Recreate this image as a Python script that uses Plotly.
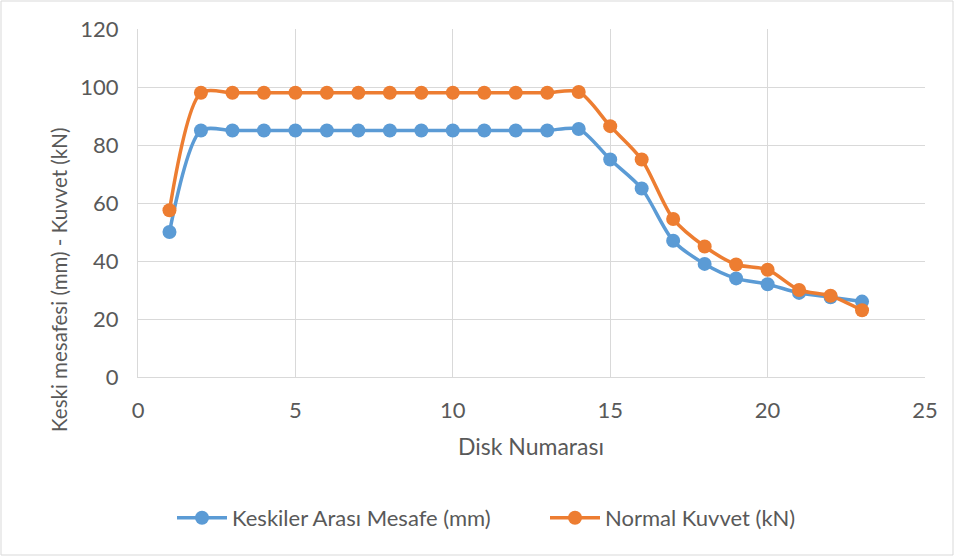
import plotly.graph_objects as go

disk = list(range(1, 24))
keskiler = [50, 85, 85, 85, 85, 85, 85, 85, 85, 85, 85, 85, 85, 85.5, 75, 65, 47, 39, 34, 32, 29, 27.5, 26]
normal = [57.5, 98, 98, 98, 98, 98, 98, 98, 98, 98, 98, 98, 98, 98.3, 86.5, 75, 54.5, 45, 38.8, 37, 30, 28, 23]
series_names = ["Keskiler Arası Mesafe (mm)", "Normal Kuvvet (kN)"]
colors = ["#5B9BD5", "#ED7D31"]
x_ticks = [0, 5, 10, 15, 20, 25]
y_ticks = [0, 20, 40, 60, 80, 100, 120]

FONT = "Lato"
TXT = "#595959"

W, H = 955, 557
L, R, T, B = 138, 30, 29, 180
pw, ph = W - L - R, H - T - B

def px_x(p):
    return (p - L) / pw

def px_y(p):
    return (H - B - p) / ph

fig = go.Figure()
legend_ids = ["legend", "legend2"]
for vals, name, c, lg in zip([keskiler, normal], series_names, colors, legend_ids):
    fig.add_trace(go.Scatter(
        x=disk, y=vals, name=name, mode="lines+markers", legend=lg,
        line=dict(color=c, width=3.5, shape="spline", smoothing=0.8),
        marker=dict(color=c, size=14),
    ))

leg_common = dict(orientation="h", xanchor="left", yanchor="middle", y=px_y(518),
                  font=dict(size=22, color=TXT), itemwidth=50, bgcolor="rgba(0,0,0,0)")

fig.update_layout(
    width=W, height=H,
    margin=dict(l=L, r=R, t=T, b=B, autoexpand=False),
    paper_bgcolor="white", plot_bgcolor="white",
    font=dict(family=FONT, color=TXT, size=22),
    showlegend=True,
    legend=dict(x=px_x(172), **leg_common),
    legend2=dict(x=px_x(545), **leg_common),
    xaxis=dict(range=[0, 25], tickvals=x_ticks, showgrid=True, gridcolor="#D9D9D9", gridwidth=1,
               zeroline=False, showline=True, linecolor="#D9D9D9", ticks="", tickfont=dict(size=22, color=TXT),
               ticklabelstandoff=14, automargin=False),
    yaxis=dict(range=[0, 120], tickvals=y_ticks, showgrid=True, gridcolor="#D9D9D9", gridwidth=1,
               zeroline=False, showline=True, linecolor="#D9D9D9", ticks="", tickfont=dict(size=22, color=TXT),
               ticklabelstandoff=14, automargin=False),
    annotations=[
        dict(text="Disk Numarası", xref="paper", yref="paper", x=px_x(531), y=px_y(446),
             xanchor="center", yanchor="middle", showarrow=False, font=dict(size=23, color=TXT)),
        dict(text="Keski mesafesi (mm) - Kuvvet (kN)", xref="paper", yref="paper", x=px_x(59), y=px_y(280),
             xanchor="center", yanchor="middle", textangle=-90, showarrow=False, font=dict(size=20.5, color=TXT)),
    ],
    shapes=[dict(type="rect", xref="paper", yref="paper",
                 x0=px_x(1), x1=px_x(W - 2), y0=px_y(H - 2), y1=px_y(1),
                 line=dict(color="#D9D9D9", width=1))],
)

fig.write_html("out.html")
